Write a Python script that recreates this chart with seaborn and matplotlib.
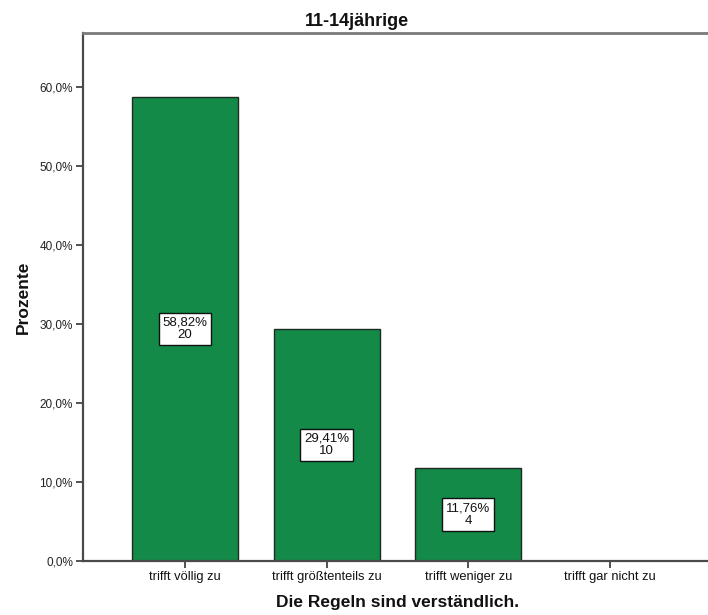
import matplotlib
matplotlib.use("Agg")
import matplotlib.pyplot as plt
import seaborn as sns
import pandas as pd

categories = ["trifft völlig zu", "trifft größtenteils zu", "trifft weniger zu", "trifft gar nicht zu"]
percents = [58.82, 29.41, 11.76, 0.0]
counts = [20, 10, 4, 0]
y_ticks = [0, 10, 20, 30, 40, 50, 60]
y_tick_labels = ["0,0%", "10,0%", "20,0%", "30,0%", "40,0%", "50,0%", "60,0%"]

sns.set_theme(style="white")
plt.rcParams["font.family"] = ["Liberation Sans", "DejaVu Sans"]

df = pd.DataFrame({"Kategorie": categories, "Prozent": percents})

fig = plt.figure(figsize=(7.08, 6.15), dpi=100)
ax = fig.add_axes([82.7 / 708, 54 / 615, (712.3 - 82.7) / 708, (561 - 33) / 615])

sns.barplot(data=df, x="Kategorie", y="Prozent", order=categories,
            color="#138a47", saturation=1, width=0.75,
            edgecolor="#1e2a22", linewidth=1.0, ax=ax)

ax.set_xlim(-0.722, 3.722)
ax.set_ylim(0, 66.9)
ax.set_yticks(y_ticks)
ax.set_yticklabels(y_tick_labels, fontsize=8.5, color="#222222")
ax.set_xticks(range(len(categories)))
ax.set_xticklabels(categories, fontsize=9.3, color="#111111")
ax.tick_params(axis="both", which="both", direction="out", length=5, width=1.3,
               color="#444444", bottom=True, left=True, pad=2)

for side in ["left", "bottom"]:
    ax.spines[side].set_color("#4a4a4a")
    ax.spines[side].set_linewidth(1.6)
ax.spines["top"].set_color("#7a7a7a")
ax.spines["top"].set_linewidth(2.0)
ax.spines["right"].set_color("#7a7a7a")
ax.spines["right"].set_linewidth(2.0)

ax.set_xlabel("Die Regeln sind verständlich.", fontsize=12.5, fontweight="bold",
              color="#111111", labelpad=9)
ax.set_ylabel("Prozente", fontsize=12.5, fontweight="bold", color="#111111", labelpad=6)

# value and count boxes, centred at half the bar height
for i, (p, n) in enumerate(zip(percents, counts)):
    if n == 0:
        continue
    ax.text(i, p / 2, f"{p:.2f}%".replace(".", ",") + f"\n{n}",
            ha="center", va="center", fontsize=9.5, color="#111111", linespacing=1.05,
            bbox=dict(boxstyle="square,pad=0.3", facecolor="white",
                      edgecolor="#111111", linewidth=1.0))

fig.text(357 / 708, 1 - 22 / 615, "11-14jährige", ha="center", va="center",
         fontsize=13, fontweight="bold", color="#111111")

fig.savefig("out.png", dpi=100, facecolor="white")
